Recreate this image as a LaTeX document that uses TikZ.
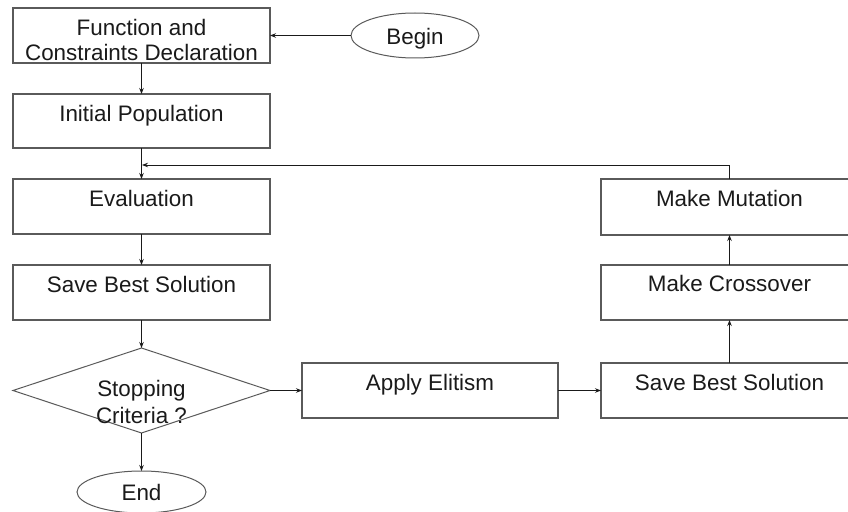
\documentclass[tikz,border=0pt]{standalone}
\usepackage{fontspec}
\setmainfont{Liberation Sans}
\usetikzlibrary{shapes.geometric,arrows.meta}

\definecolor{edge}{HTML}{5A5A5A}
\definecolor{ink}{HTML}{1A1A1A}

\tikzset{
  stepbox/.style={draw=edge, line width=1.2pt, minimum width=257pt, minimum height=55pt,
    inner sep=0pt, outer sep=0pt},
  oval/.style={ellipse, draw=edge, line width=1pt, inner sep=0pt, outer sep=0pt},
  decide/.style={diamond, draw=edge, line width=1pt, minimum width=257pt, minimum height=85pt,
    inner sep=0pt, outer sep=0pt},
  lbl/.style={anchor=base, inner sep=0pt, text=ink, align=center,
    font=\fontsize{22.4}{26}\selectfont},
  arr/.style={draw=ink, line width=0.9pt, -{Stealth[length=6pt,width=4.5pt]}},
  link/.style={draw=ink, line width=0.9pt}
}

\begin{document}
\begin{tikzpicture}[x=1pt, y=-1pt]
\useasboundingbox (0,0) rectangle (848,511);
\clip (0,0) rectangle (848,511);
\fill[white] (0,0) rectangle (848,511);

% left column
\node[stepbox] (fcd)   at (141.5,35.5)  {};
\node[stepbox, minimum height=54pt] (init) at (141.5,121) {};
\node[stepbox] (eval)  at (141.5,206.5) {};
\node[stepbox] (save1) at (141.5,292.5) {};
\node[decide]  (stop)  at (141.5,390.5) {};
\node[oval, minimum width=129pt, minimum height=42pt] (finish) at (141.5,492) {};
\node[oval, minimum width=128pt, minimum height=45pt] (begin)  at (415,35.5) {};

% bottom row and right column
\node[stepbox, minimum width=256pt] (elit) at (430,390.5) {};
\node[stepbox] (save2) at (729.5,390.5) {};
\node[stepbox] (cross) at (729.5,292.5) {};
\node[stepbox, minimum height=56pt] (mut) at (729.5,207) {};

% texts
\node[lbl] (tfcd)   at (141.5,36) {Function and};
\node[lbl] (tfcd2)  at (141.5,60) {Constraints Declaration};
\node[lbl] (tinit)  at (141.5,121) {Initial Population};
\node[lbl] (teval)  at (141.5,206) {Evaluation};
\node[lbl] (tsave1) at (141.5,292) {Save Best Solution};
\node[lbl] (tstop)  at (141.5,396) {Stopping};
\node[lbl] (tstop2) at (141.5,423) {Criteria ?};
\node[lbl] (tend)   at (141.5,500) {End};
\node[lbl] (tbegin) at (415,45) {Begin};
\node[lbl] (telit)  at (430,390) {Apply Elitism};
\node[lbl] (tsave2) at (729.5,390) {Save Best Solution};
\node[lbl] (tcross) at (729.5,291) {Make Crossover};
\node[lbl] (tmut)   at (729.5,206) {Make Mutation};

% connectors
\coordinate (loop) at (142,165);
\draw[arr] (begin.west) -- (fcd.east);
\draw[arr] (fcd.south) -- (init.north);
\draw[arr] (init.south) -- (eval.north);
\draw[arr] (eval.south) -- (save1.north);
\draw[arr] (save1.south) -- (stop.north);
\draw[arr] (stop.south) -- (finish.north);
\draw[arr] (stop.east) -- (elit.west);
\draw[arr] (elit.east) -- (save2.west);
\draw[arr] (save2.north) -- (cross.south);
\draw[arr] (cross.north) -- (mut.south);
\draw[arr] (mut.north) |- (loop);
\end{tikzpicture}
\end{document}
